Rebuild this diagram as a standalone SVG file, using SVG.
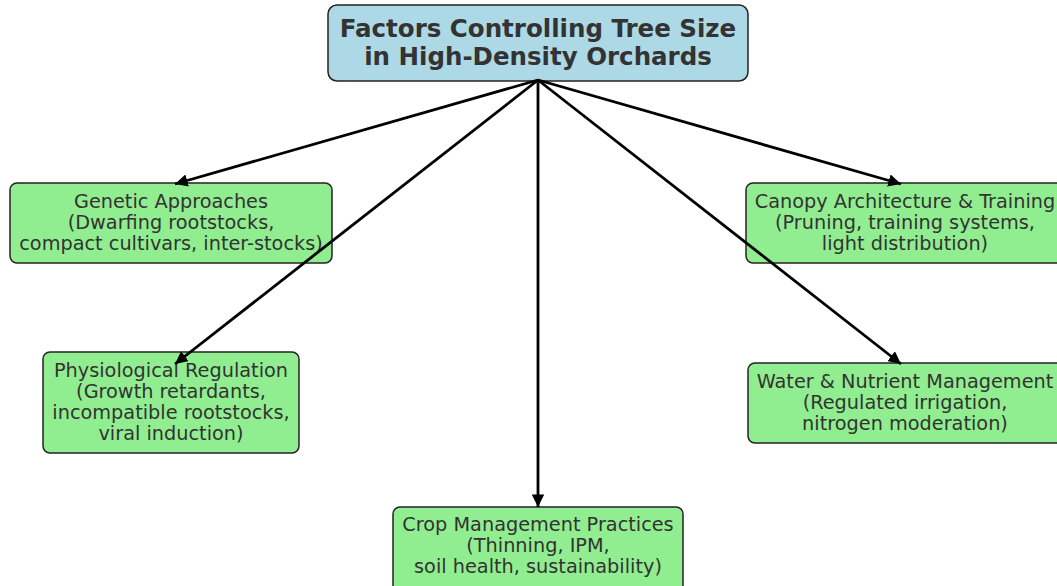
<svg xmlns="http://www.w3.org/2000/svg" width="1057" height="586" viewBox="0 0 1057 586">
<defs>
<marker id="ah" viewBox="0 0 10 10" refX="10" refY="5" markerWidth="4.5" markerHeight="4.5" orient="auto" markerUnits="strokeWidth">
<path d="M0,0 L10,5 L0,10 z" fill="#000"/>
</marker>
</defs>
<style>
.box{fill:#90ee90;stroke:#222;stroke-width:1.5}
.title{fill:#add8e6;stroke:#222;stroke-width:1.5}
.t{font-family:"DejaVu Sans",sans-serif;font-size:19.3px;fill:#333;text-anchor:middle;dominant-baseline:central}
.tt{font-family:"DejaVu Sans",sans-serif;font-size:24.5px;font-weight:bold;fill:#333;text-anchor:middle;dominant-baseline:central}
.c{stroke:#000;stroke-width:2.8;fill:none;marker-end:url(#ah)}
</style>
<rect width="1057" height="586" fill="#fff"/>
<g id="title">
<rect class="title" x="328" y="5" width="420" height="76" rx="9"/>
<text class="tt" x="538" y="28">Factors Controlling Tree Size</text>
<text class="tt" x="538" y="56">in High-Density Orchards</text>
</g>
<g id="genetic">
<rect class="box" x="10" y="183" width="322" height="80" rx="7"/>
<text class="t" x="171" y="201">Genetic Approaches</text>
<text class="t" x="171" y="222">(Dwarfing rootstocks,</text>
<text class="t" x="171" y="243">compact cultivars, inter-stocks)</text>
</g>
<g id="canopy">
<rect class="box" x="746" y="183" width="320" height="80" rx="7"/>
<text class="t" x="905" y="201">Canopy Architecture &amp; Training</text>
<text class="t" x="905" y="222">(Pruning, training systems,</text>
<text class="t" x="905" y="243">light distribution)</text>
</g>
<g id="physiological">
<rect class="box" x="43" y="352" width="256" height="101" rx="7"/>
<text class="t" x="171" y="370">Physiological Regulation</text>
<text class="t" x="171" y="391">(Growth retardants,</text>
<text class="t" x="171" y="412">incompatible rootstocks,</text>
<text class="t" x="171" y="433">viral induction)</text>
</g>
<g id="water">
<rect class="box" x="748" y="363" width="318" height="80" rx="7"/>
<text class="t" x="905" y="381">Water &amp; Nutrient Management</text>
<text class="t" x="905" y="402">(Regulated irrigation,</text>
<text class="t" x="905" y="423">nitrogen moderation)</text>
</g>
<g id="crop">
<rect class="box" x="393" y="507" width="290" height="90" rx="7"/>
<text class="t" x="538" y="524">Crop Management Practices</text>
<text class="t" x="538" y="545">(Thinning, IPM,</text>
<text class="t" x="538" y="566">soil health, sustainability)</text>
</g>
<g id="connectors">
<line class="c" x1="538" y1="80" x2="175" y2="184"/>
<line class="c" x1="538" y1="80" x2="175" y2="364"/>
<line class="c" x1="538" y1="80" x2="538" y2="507"/>
<line class="c" x1="538" y1="80" x2="901" y2="364"/>
<line class="c" x1="538" y1="80" x2="901" y2="184"/>
</g>
</svg>
